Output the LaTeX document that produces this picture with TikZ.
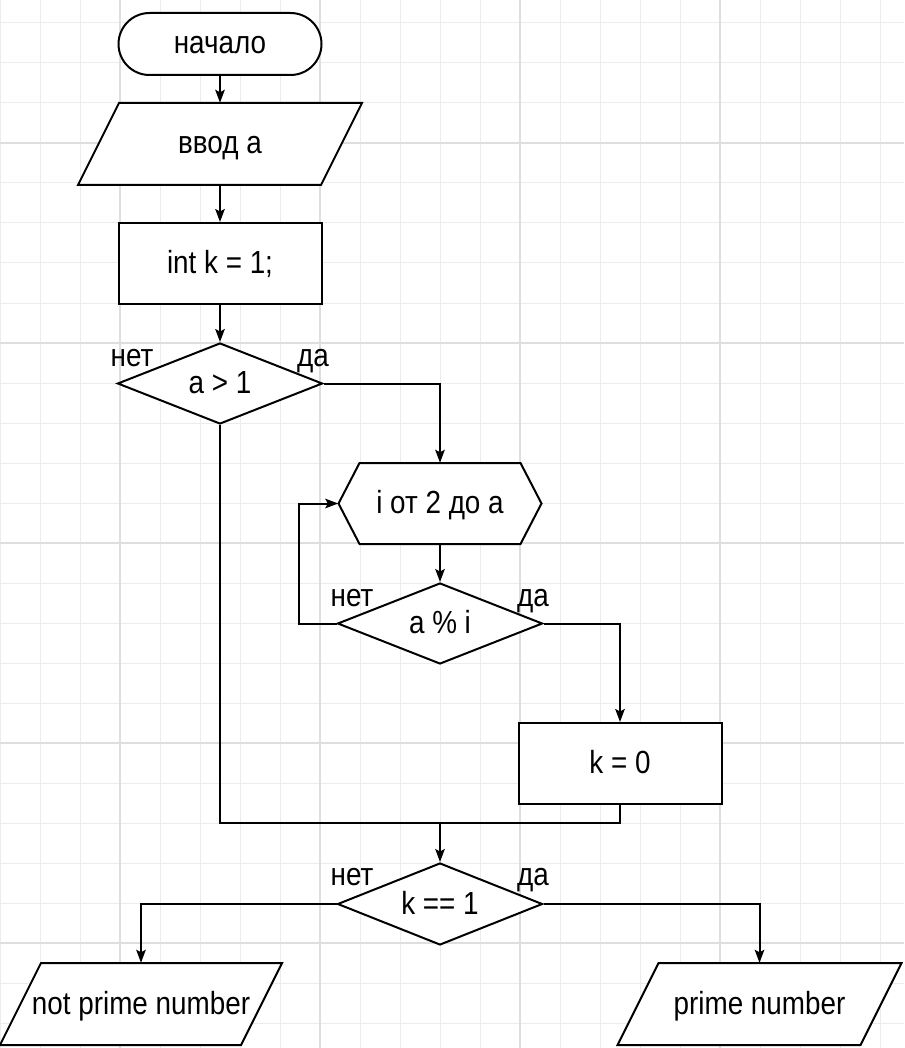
\documentclass[tikz,border=0pt]{standalone}
\usepackage{fontspec}
\setmainfont{Liberation Sans}[FakeStretch=0.87]
\usetikzlibrary{shapes.geometric,arrows.meta}

\definecolor{gridminor}{RGB}{236,236,236}
\definecolor{gridmajor}{RGB}{222,222,222}

% parallelogram outline: centre x, centre y, half width (skew 41, height 82)
\newcommand\ioframe[3]{%
  \filldraw[outline] (#1-#3+41,#2-41) -- (#1+#3,#2-41) -- (#1+#3-41,#2+41) -- (#1-#3,#2+41) -- cycle;}
% loop-limit hexagon outline: centre x, centre y
\newcommand\hexframe[2]{%
  \filldraw[outline] (#1-101.5,#2) -- (#1-80.5,#2-40.5) -- (#1+80.5,#2-40.5) -- (#1+101.5,#2)
    -- (#1+80.5,#2+40.5) -- (#1-80.5,#2+40.5) -- cycle;}

\begin{document}
\begin{tikzpicture}[x=1pt,y=-1pt,
  font=\fontsize{32}{38}\selectfont,
  outline/.style={draw=black, fill=white, line width=2pt, line join=miter},
  flow/.style={draw=black, line width=2pt, -{Stealth[length=13pt,width=9.5pt,inset=2.5pt]}},
  wire/.style={draw=black, line width=2pt},
  txt/.style={inner sep=0pt, text height=23pt, text depth=3pt, align=center},
  term/.style={txt, outline, rounded corners=31pt, minimum width=203pt, minimum height=62pt},
  proc/.style={txt, outline, minimum width=203pt, minimum height=81pt},
  frameless/.style={txt, minimum height=82pt},
  decision/.style={txt, outline, diamond, aspect=2.5, minimum width=205pt, minimum height=81pt},
  lbl/.style={anchor=base, inner sep=0pt},
]
% canvas and grid
\fill[white] (0,0) rectangle (904,1048);
\useasboundingbox (0,0) rectangle (904,1048);
\foreach \x in {0,40,...,880} \draw[gridminor, line width=1pt] (\x,0) -- (\x,1048);
\foreach \y in {23,63,...,1023} \draw[gridminor, line width=1pt] (0,\y) -- (904,\y);
\foreach \x in {120,320,520,720} \draw[gridmajor, line width=1.2pt] (\x,0) -- (\x,1048);
\foreach \y in {143,343,543,743,943} \draw[gridmajor, line width=1.2pt] (0,\y) -- (904,\y);

% blocks
\node[term] (start) at (220,44) {начало};

\ioframe{220}{144}{142}
\node[frameless, minimum width=284pt] (input) at (220,144) {ввод а};

\node[proc] (init) at (220,263.5) {int k = 1;};

\node[decision] (cond1) at (220,383.5) {a > 1};

\hexframe{440}{503.5}
\node[frameless, minimum width=203pt, minimum height=81pt] (loop) at (440,503.5) {i от 2 до а};

\node[decision] (cond2) at (440,623.5) {a \% i};

\node[proc] (assign) at (620,763.5) {k = 0};

\coordinate (join) at (440,823);

\node[decision, minimum height=82pt] (cond3) at (440,904) {k == 1};

\ioframe{141}{1004}{141}
\node[frameless, minimum width=282pt] (notprime) at (141,1004) {not prime number};

\ioframe{759.5}{1004}{142}
\node[frameless, minimum width=284pt] (prime) at (759.5,1004) {prime number};

% branch labels
\node[lbl] (cond1-no) at (132,366) {нет};
\node[lbl] (cond1-yes) at (313,366) {да};
\node[lbl] (cond2-no) at (352,606) {нет};
\node[lbl] (cond2-yes) at (533,606) {да};
\node[lbl] (cond3-no) at (352,885) {нет};
\node[lbl] (cond3-yes) at (533,885) {да};

% connectors
\draw[flow] (start) -- (input);
\draw[flow] (input) -- (init);
\draw[flow] (init) -- (cond1);
\draw[flow] (cond1.east) -| (loop.north);
\draw[flow] (loop) -- (cond2);
\draw[flow] (cond2.west) -- ++(-38,0) |- (loop.west);
\draw[flow] (cond2.east) -| (assign.north);
\draw[wire] (assign.south) |- (join);
\draw[wire] (cond1.south) |- (join);
\draw[flow] (join) -- (cond3.north);
\draw[flow] (cond3.west) -| (notprime.north);
\draw[flow] (cond3.east) -| (prime.north);
\end{tikzpicture}
\end{document}
